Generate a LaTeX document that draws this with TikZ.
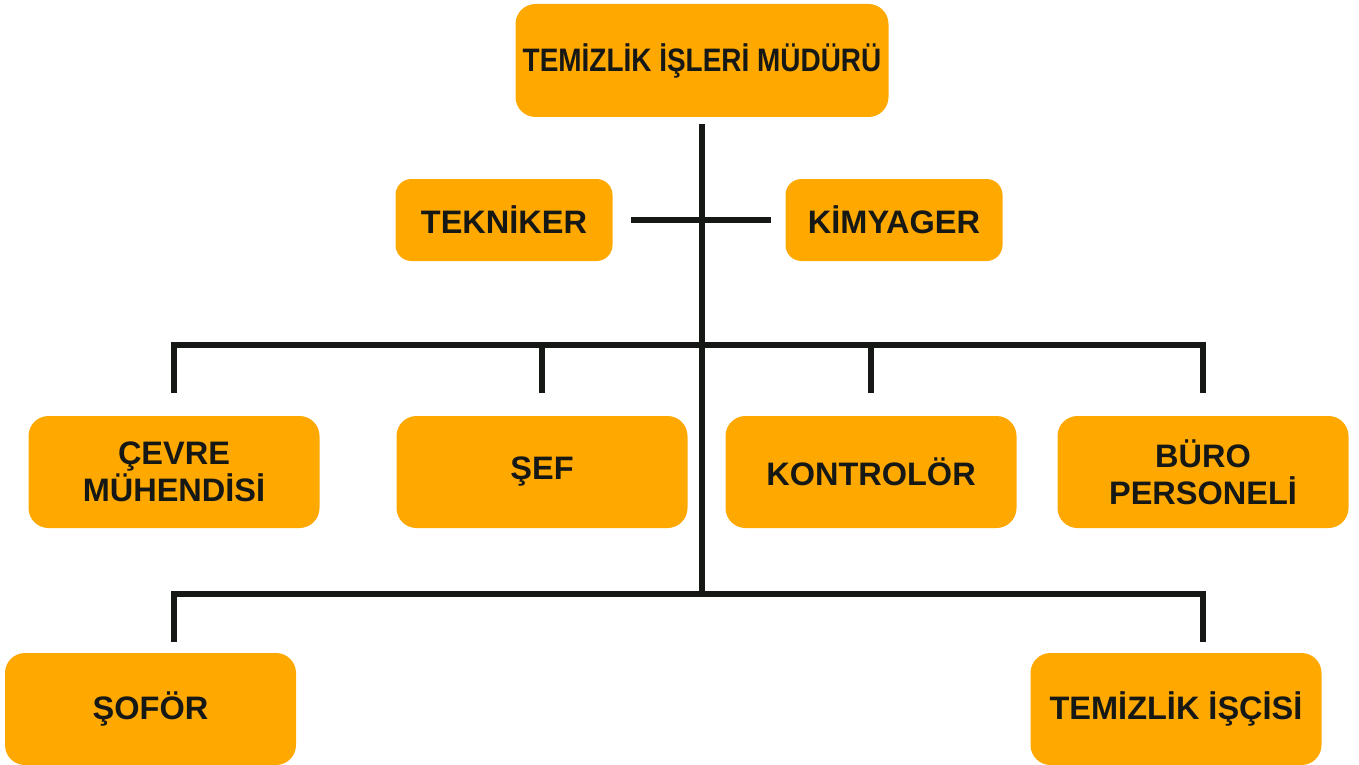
\documentclass[tikz,border=0pt]{standalone}
\usepackage{fontspec}
\setmainfont{Liberation Sans}
\definecolor{boxfill}{RGB}{255,168,0}
\definecolor{ink}{RGB}{22,24,22}
\tikzset{
  unit/.style={fill=boxfill, rounded corners=20pt, text=ink, align=center,
    inner sep=0pt, font=\bfseries\fontsize{32.5}{37}\selectfont},
  bigbox/.style={unit, minimum width=291pt, minimum height=112pt},
  smallbox/.style={unit, rounded corners=16pt, minimum width=217pt, minimum height=82pt},
  wire/.style={draw=ink, line width=6pt}
}
\begin{document}
\begin{tikzpicture}[x=1pt,y=-1pt]
\useasboundingbox (0,0) rectangle (1359,765);

% boxes
\node[unit, minimum width=373pt, minimum height=113pt] (top) at (702,60.5)
  {\scalebox{0.86}[1]{TEMİZLİK İŞLERİ MÜDÜRÜ}};
\node[smallbox] (tek) at (504,220) {TEKNİKER};
\node[smallbox] (kim) at (894,220) {KİMYAGER};
\node[bigbox] (cevre) at (174,472) {ÇEVRE\\MÜHENDİSİ};
\node[bigbox] (sef) at (542,472) {ŞEF};
\node[bigbox] (kontrol) at (871,472) {KONTROLÖR};
\node[bigbox] (buro) at (1203,472) {BÜRO\\PERSONELİ};
\node[bigbox] (sofor) at (150.5,709) {ŞOFÖR};
\node[bigbox] (isci) at (1176,709) {TEMİZLİK İŞÇİSİ};

% junction points on the trunk
\coordinate (b1) at (702,345);
\coordinate (b2) at (702,594);
\coordinate (sd) at (174,642);
\coordinate (id) at (1203,642);

% trunk
\draw[wire] ([yshift=-7pt]top.south) -- (b2);
% staff line
\draw[wire] ([xshift=18pt]tek.east) -- ([xshift=-14pt]kim.west);
% first branch
\draw[wire] ([yshift=23pt]cevre.north) -- (cevre.north |- b1) -- (buro.north |- b1) -- ([yshift=23pt]buro.north);
\draw[wire] ([yshift=23pt]sef.north) -- (sef.north |- b1);
\draw[wire] ([yshift=23pt]kontrol.north) -- (kontrol.north |- b1);
% second branch
\draw[wire] (sd) -- (sd |- b2) -- (id |- b2) -- (id);
\end{tikzpicture}
\end{document}
